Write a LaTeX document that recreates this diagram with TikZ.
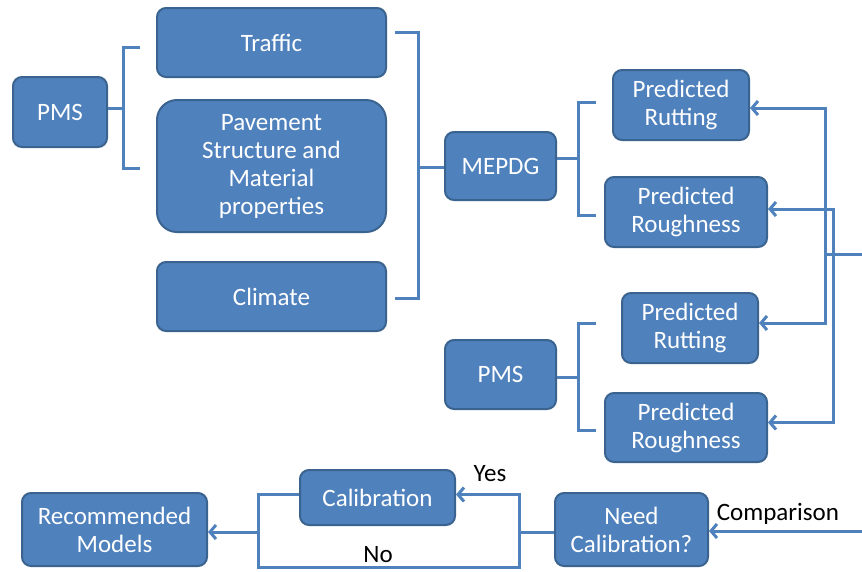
\documentclass[tikz,border=0pt]{standalone}
\usepackage{fontspec}
\setmainfont{Carlito}
\usetikzlibrary{arrows.meta,positioning,calc}
\definecolor{boxfill}{HTML}{4F81BD}
\definecolor{boxline}{HTML}{3A638F}
\definecolor{linkcol}{HTML}{4F81BD}
\begin{document}
\begin{tikzpicture}[
  x=1pt, y=-1pt,
  font=\fontsize{25}{28}\selectfont,
  >={Straight Barb[length=6pt, width=14pt]},
  box/.style={rectangle, rounded corners=9pt, draw=boxline, fill=boxfill, line width=2pt,
              text=white, align=center, inner sep=0pt},
  brace/.style={line width=3pt, draw=linkcol},
  link/.style={line width=3pt, draw=linkcol},
  arr/.style={->, line width=3pt, draw=linkcol},
  lbl/.style={text=black, inner sep=1pt},
]
\useasboundingbox (0,0) rectangle (862,571);

% inputs
\node[box, minimum width=94pt,  minimum height=70pt]  (pmsA)    at (60,112)    {PMS};
\node[box, minimum width=229pt, minimum height=69pt]  (traffic) at (271.5,42.5) {Traffic};
\node[box, minimum width=229pt, minimum height=132pt, rounded corners=20pt]
                                                      (pave)    at (271.5,166) {Pavement\\Structure and\\Material\\properties};
\node[box, minimum width=229pt, minimum height=69pt]  (climate) at (271.5,296.5) {Climate};

% models
\node[box, minimum width=111pt, minimum height=68pt]  (mepdg)   at (500.5,166) {MEPDG};
\node[box, minimum width=111pt, minimum height=69pt]  (pmsB)    at (500.5,374.5) {PMS};
\node[box, minimum width=136pt, minimum height=70pt]  (rutA)    at (681,105)   {Predicted\\Rutting};
\node[box, minimum width=162pt, minimum height=70pt]  (rouA)    at (686,212)   {Predicted\\Roughness};
\node[box, minimum width=136pt, minimum height=70pt]  (rutB)    at (690,328)   {Predicted\\Rutting};
\node[box, minimum width=162pt, minimum height=69pt]  (rouB)    at (686,427.5) {Predicted\\Roughness};

% bottom row
\node[box, minimum width=153pt, minimum height=73pt]  (need)    at (631.5,529.5) {Need\\Calibration?};
\node[box, minimum width=155pt, minimum height=55pt]  (calib)   at (377.5,497.5) {Calibration};
\node[box, minimum width=185pt, minimum height=73pt]  (recom)   at (114.5,529.5) {Recommended\\Models};

% brace coordinates
\coordinate (b1) at (123,108);
\coordinate (b2) at (418,167);
\coordinate (b3) at (578,158);
\coordinate (b4) at (578,377);
\coordinate (j1) at (825,254);
\coordinate (j2) at (833,254);
\coordinate (eA) at (862,254);
\coordinate (eB) at (862,531);
\coordinate (jr) at (519,532);
\coordinate (jl) at (258,532);

% braces
\draw[brace] (140,47) -| (123,168) -- (140,168);
\draw[brace] (pmsA.east |- b1) -- (b1);
\draw[brace] (395,32) -| (418,298) -- (395,298);
\draw[brace] (b2) -- (mepdg.west |- b2);
\draw[brace] (596,102) -| (578,215) -- (596,215);
\draw[brace] (mepdg.east |- b3) -- (b3);
\draw[brace] (596,323) -| (578,430) -- (596,430);
\draw[brace] (pmsB.east |- b4) -- (b4);

% comparison links
\draw[arr] (j1) |- ($(rutA.east)+(0,3)$);
\draw[arr] (j1) |- ($(rutB.east)+(0,-5)$);
\draw[arr] (j2) |- ($(rouA.east)+(0,-3)$);
\draw[arr] (j2) |- ($(rouB.east)+(0,-5)$);
\draw[link] (j1) -- (eA);
\draw[arr] (eB) -- node[lbl, above=4pt, pos=0.55]{Comparison} (need.east |- eB);

% calibration loop
\draw[link] (need.west |- jr) -- (jr);
\draw[arr] (jr) |- node[lbl, above=10pt, pos=0.73]{Yes} ($(calib.east)+(0,-3)$);
\draw[link] ($(calib.west)+(0,-3)$) -| (jl);
\draw[link] (jr) -- (519,567) -| node[lbl, above=2pt, pos=0.27]{No} (jl);
\draw[arr] (jl) -- (recom.east |- jl);

\end{tikzpicture}
\end{document}
